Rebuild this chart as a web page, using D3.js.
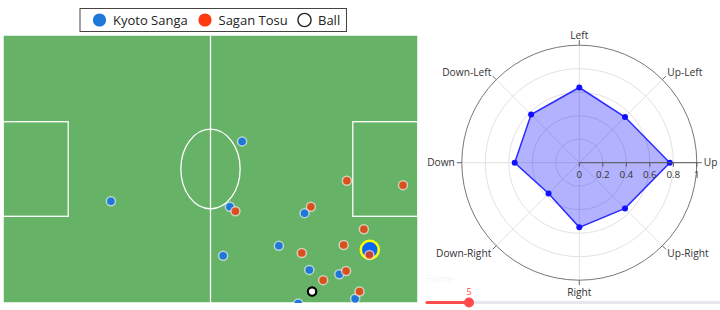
<!DOCTYPE html>
<html>
<head>
<meta charset="utf-8">
<script src="https://cdn.jsdelivr.net/npm/d3@7"></script>
<style>
  body { margin: 0; background: #fff; font-family: "Open Sans", sans-serif; }
  svg { display: block; }
</style>
</head>
<body>
<svg id="chart" width="720" height="310"></svg>
<script>
// pitch positions (metres, 105 x 68 pitch)
const kyotoX = [27.3, 60.5, 57.4, 76.3, 69.8, 55.7, 77.5, 85.1, 89.1, 74.7, 92.8];
const kyotoY = [25.8, 41.0, 24.4, 22.8, 14.5, 12.0, 8.4, 7.3, 1.1, -0.1, 13.5];
const saganX = [58.8, 77.9, 87.0, 101.2, 91.3, 86.2, 75.6, 86.8, 81.0, 90.2, 92.7];
const saganY = [23.3, 24.4, 31.0, 29.9, 18.7, 14.7, 12.7, 8.1, 5.8, 2.9, 12.2];
const ballX = [78.2];
const ballY = [2.9];
const selectedPlayer = 10; // index in kyoto list

const legendNames = ["Kyoto Sanga", "Sagan Tosu", "Ball"];

// movement direction radar
const directions = ["Up", "Up-Left", "Left", "Down-Left", "Down", "Down-Right", "Right", "Up-Right"];
const dirValues = [0.77, 0.55, 0.64, 0.58, 0.55, 0.37, 0.55, 0.55];
const radialTicks = [0, 0.2, 0.4, 0.6, 0.8, 1];

const frameLabel = "Frame";
const frameValue = 5;
const frameMax = 40;

const svg = d3.select("#chart");
const blue = "#1f77d6", red = "#d9572a";

// ---------- pitch ----------
const x = d3.scaleLinear().domain([0, 105]).range([3, 418]);
const y = d3.scaleLinear().domain([0, 68]).range([303, 35]);

svg.append("clipPath").attr("id", "pitchClip")
  .append("rect").attr("x", 3).attr("y", 35).attr("width", 415).attr("height", 268);

const pitch = svg.append("g").attr("clip-path", "url(#pitchClip)");
pitch.append("rect").attr("x", x(0)).attr("y", y(68)).attr("width", x(105) - x(0)).attr("height", y(0) - y(68))
  .attr("fill", "#66b266").attr("stroke", "#fff").attr("stroke-width", 1.5);

const lines = pitch.append("g").attr("fill", "none").attr("stroke", "#fff").attr("stroke-width", 1.3);
lines.append("line").attr("x1", x(52.5)).attr("x2", x(52.5)).attr("y1", y(0)).attr("y2", y(68));
lines.append("rect").attr("x", x(0)).attr("y", y(46)).attr("width", x(16.5) - x(0)).attr("height", y(22) - y(46));
lines.append("rect").attr("x", x(88.5)).attr("y", y(46)).attr("width", x(105) - x(88.5)).attr("height", y(22) - y(46));
lines.append("ellipse").attr("cx", x(52.5)).attr("cy", y(34))
  .attr("rx", x(7.5) - x(0)).attr("ry", y(0) - y(10.1));

const kyoto = kyotoX.map((v, i) => ({ x: v, y: kyotoY[i], i }));
const sagan = saganX.map((v, i) => ({ x: v, y: saganY[i], i }));

// highlighted player
const sel = kyoto[selectedPlayer];
pitch.append("circle").attr("cx", x(sel.x)).attr("cy", y(sel.y)).attr("r", 9)
  .attr("fill", "#0a64f5").attr("stroke", "#ffff00").attr("stroke-width", 2.5);

pitch.selectAll(".kyoto").data(kyoto.filter(d => d.i !== selectedPlayer)).join("circle")
  .attr("class", "kyoto")
  .attr("cx", d => x(d.x)).attr("cy", d => y(d.y)).attr("r", 4.5)
  .attr("fill", blue).attr("stroke", "rgba(255,255,255,0.6)").attr("stroke-width", 1.5);

pitch.selectAll(".sagan").data(sagan).join("circle")
  .attr("class", "sagan")
  .attr("cx", d => x(d.x)).attr("cy", d => y(d.y)).attr("r", 4.5)
  .attr("fill", "#f03c10").attr("fill-opacity", 0.82)
  .attr("stroke", "rgba(255,255,255,0.6)").attr("stroke-width", 1.5);

pitch.selectAll(".ball").data(ballX.map((v, i) => ({ x: v, y: ballY[i] }))).join("circle")
  .attr("class", "ball")
  .attr("cx", d => x(d.x)).attr("cy", d => y(d.y)).attr("r", 4.2)
  .attr("fill", "#fff").attr("stroke", "#000").attr("stroke-width", 2.2);

// ---------- legend ----------
const legend = svg.append("g").attr("transform", "translate(80,8.5)");
legend.append("rect").attr("width", 266.5).attr("height", 23)
  .attr("fill", "#fff").attr("stroke", "#444").attr("stroke-width", 1);
const legendX = [19.5, 125, 224.5];
const legendStyle = [
  { fill: "#1e78d8", stroke: "none", sw: 0 },
  { fill: "#ff3a10", stroke: "none", sw: 0 },
  { fill: "#fff", stroke: "#222", sw: 1.4 }
];
legendNames.forEach((n, i) => {
  legend.append("circle").attr("cx", legendX[i]).attr("cy", 11.5).attr("r", 6.6)
    .attr("fill", legendStyle[i].fill).attr("stroke", legendStyle[i].stroke).attr("stroke-width", legendStyle[i].sw);
  legend.append("text").attr("x", legendX[i] + 13.5).attr("y", 16)
    .attr("font-size", 13).attr("fill", "#222").text(n);
});

// ---------- polar ----------
const cx = 579.3, cy = 162.7, R = 117.5;
const r = d3.scaleLinear().domain([0, 1]).range([0, R]);
const ang = d3.scaleLinear().domain([0, directions.length]).range([0, 2 * Math.PI]);
const polar = svg.append("g").attr("transform", `translate(${cx},${cy})`);

polar.selectAll(".gridc").data(radialTicks.slice(1, -1)).join("circle")
  .attr("r", d => r(d)).attr("fill", "none").attr("stroke", "#e2e2e2").attr("stroke-width", 1);
polar.selectAll(".grida").data(directions).join("line")
  .attr("x1", 0).attr("y1", 0)
  .attr("x2", (d, i) => R * Math.cos(ang(i))).attr("y2", (d, i) => -R * Math.sin(ang(i)))
  .attr("stroke", "#e2e2e2").attr("stroke-width", 1);

// outer circle and angular ticks
polar.append("circle").attr("r", R).attr("fill", "none").attr("stroke", "#777").attr("stroke-width", 1);
polar.selectAll(".atick").data(directions).join("line")
  .attr("x1", (d, i) => R * Math.cos(ang(i))).attr("y1", (d, i) => -R * Math.sin(ang(i)))
  .attr("x2", (d, i) => (R + 5) * Math.cos(ang(i))).attr("y2", (d, i) => -(R + 5) * Math.sin(ang(i)))
  .attr("stroke", "#666").attr("stroke-width", 1);

polar.selectAll(".alabel").data(directions).join("text")
  .attr("x", (d, i) => (R + 7) * Math.cos(ang(i)))
  .attr("y", (d, i) => -(R + 7) * Math.sin(ang(i)))
  .attr("text-anchor", (d, i) => { const c = Math.cos(ang(i)); return c > 0.1 ? "start" : c < -0.1 ? "end" : "middle"; })
  .attr("dy", (d, i) => { const s = Math.sin(ang(i)); const c = Math.cos(ang(i));
    if (Math.abs(c) < 0.1) return s > 0 ? "0.05em" : "0.85em";
    return s > 0.1 ? "0.1em" : s < -0.1 ? "0.6em" : "0.35em"; })
  .attr("font-size", 10.2).attr("fill", "#333").text(d => d);

// data area
const radial = d3.lineRadial()
  .angle((d, i) => Math.PI / 2 - ang(i))
  .radius(d => r(d))
  .curve(d3.curveLinearClosed);
polar.append("path").attr("d", radial(dirValues))
  .attr("fill", "rgba(0,0,255,0.3)").attr("stroke", "#2b2bff").attr("stroke-width", 1.5);
polar.selectAll(".pt").data(dirValues).join("circle")
  .attr("cx", (d, i) => r(d) * Math.cos(ang(i))).attr("cy", (d, i) => -r(d) * Math.sin(ang(i)))
  .attr("r", 3).attr("fill", "#1010ff");

// radial axis along "Up"
polar.append("line").attr("x1", 0).attr("x2", R).attr("y1", 0).attr("y2", 0)
  .attr("stroke", "#555").attr("stroke-width", 1);
polar.selectAll(".rtick").data(radialTicks).join("line")
  .attr("x1", d => r(d)).attr("x2", d => r(d)).attr("y1", 0).attr("y2", 4)
  .attr("stroke", "#555").attr("stroke-width", 1);
polar.selectAll(".rlabel").data(radialTicks).join("text")
  .attr("x", d => r(d)).attr("y", 15.5).attr("text-anchor", "middle")
  .attr("font-size", 9.8).attr("fill", "#333").text(d => d3.format("~g")(d));

// ---------- frame slider ----------
const fx = d3.scaleLinear().domain([0, frameMax]).range([427, 427 + (469 - 427) * frameMax / frameValue]);
svg.append("text").attr("x", 426).attr("y", 282).attr("font-size", 9).attr("fill", "#f4f4f4").text(frameLabel);
svg.append("line").attr("x1", fx(0)).attr("x2", fx(frameMax)).attr("y1", 302.5).attr("y2", 302.5)
  .attr("stroke", "#e6e6ec").attr("stroke-width", 3).attr("stroke-linecap", "round");
svg.append("line").attr("x1", fx(0)).attr("x2", fx(frameValue)).attr("y1", 302.5).attr("y2", 302.5)
  .attr("stroke", "#ff4b4b").attr("stroke-width", 3).attr("stroke-linecap", "round");
svg.append("circle").attr("cx", fx(frameValue)).attr("cy", 302.5).attr("r", 5).attr("fill", "#ff4b4b");
svg.append("text").attr("x", fx(frameValue)).attr("y", 295).attr("text-anchor", "middle")
  .attr("font-size", 9).attr("fill", "#ff4b4b").text(frameValue);
</script>
</body>
</html>
